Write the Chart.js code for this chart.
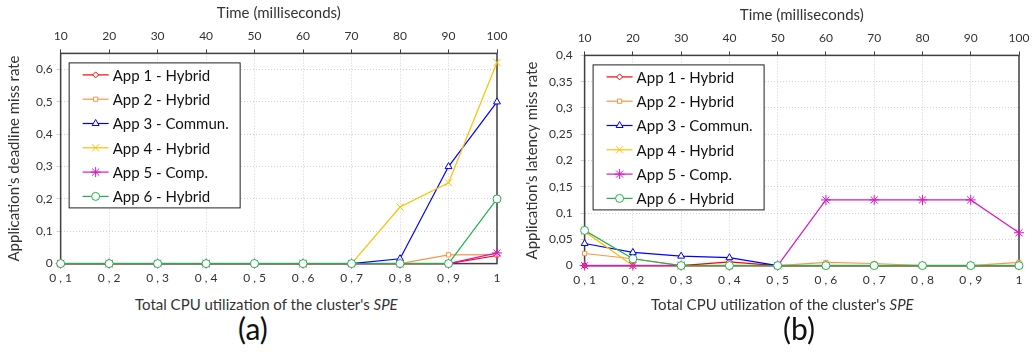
<!DOCTYPE html>
<html>
<head>
<meta charset="utf-8">
<script src="https://cdn.jsdelivr.net/npm/chart.js@4/dist/chart.umd.min.js"></script>
<style>
  body { margin: 0; background: #fff; font-family: Lato, "Open Sans", sans-serif; }
  #wrap { position: relative; width: 1036px; height: 354px; overflow: hidden; }
  .pane { position: absolute; width: 518px; height: 295px; }
  .xtitle { position: absolute; top: 295px; font-size: 15px; color: #333; white-space: nowrap; }
  .tag { position: absolute; top: 310px; font-size: 30px; color: #111; }
</style>
</head>
<body>
<div id="wrap">
  <div class="pane" style="left:0; top:0"><canvas id="deadlineChart" width="518" height="295"></canvas></div>
  <div class="pane" style="left:518px; top:2px"><canvas id="latencyChart" width="518" height="295"></canvas></div>
  <div class="xtitle" style="left:135px">Total CPU utilization of the cluster's <i>SPE</i></div>
  <div class="xtitle" style="left:651px">Total CPU utilization of the cluster's <i>SPE</i></div>
  <div class="tag" style="left:238px">(a)</div>
  <div class="tag" style="left:783px">(b)</div>
</div>
<script>
// categories
const utilLabels = ['0,1', '0,2', '0,3', '0,4', '0,5', '0,6', '0,7', '0,8', '0,9', '1'];
const timeLabels = ['10', '20', '30', '40', '50', '60', '70', '80', '90', '100'];
const appNames = ['App 1 - Hybrid', 'App 2 - Hybrid', 'App 3 - Commun.', 'App 4 - Hybrid', 'App 5 - Comp.', 'App 6 - Hybrid'];

// (a) deadline miss rate
const deadlineApp1 = [0, 0, 0, 0, 0, 0, 0, 0, 0, 0.025];
const deadlineApp2 = [0, 0, 0, 0, 0, 0, 0, 0, 0.027, 0.028];
const deadlineApp3 = [0, 0, 0, 0, 0, 0, 0, 0.015, 0.3, 0.5];
const deadlineApp4 = [0, 0, 0, 0, 0, 0, 0, 0.175, 0.25, 0.622];
const deadlineApp5 = [0, 0, 0, 0, 0, 0, 0, 0, 0, 0.033];
const deadlineApp6 = [0, 0, 0, 0, 0, 0, 0, 0, 0, 0.2];

// (b) latency miss rate
const latencyApp1 = [0, 0, 0, 0.007, 0, 0, 0, 0, 0, 0];
const latencyApp2 = [0.023, 0.013, 0, 0, 0, 0.006, 0.004, 0, 0, 0.006];
const latencyApp3 = [0.042, 0.025, 0.018, 0.015, 0, 0, 0, 0, 0, 0];
const latencyApp4 = [0.065, 0, 0, 0, 0, 0, 0, 0, 0, 0];
const latencyApp5 = [0, 0, 0, 0, 0, 0.125, 0.125, 0.125, 0.125, 0.0625];
const latencyApp6 = [0.067, 0.013, 0, 0, 0, 0, 0, 0, 0, 0];

const colors = ['#FF0000', '#F79646', '#0000FF', '#FFC000', '#D619C4', '#22B14C'];
const markers = ['rectRot', 'rect', 'triangle', 'crossRot', 'star', 'circle'];
const sizes = [3, 3, 4, 5, 5, 4];

const FONT = 'Lato, "Open Sans", sans-serif';

function makeSets(series) {
    return series.map((data, i) => ({
        label: appNames[i],
        data: data,
        borderColor: colors[i],
        backgroundColor: '#fff',
        pointBackgroundColor: '#fff',
        pointBorderColor: colors[i],
        pointStyle: markers[i],
        pointRadius: sizes[i],
        pointBorderWidth: 1,
        borderWidth: 1.2,
        tension: 0,
        clip: false,
        order: 5 - i
    }));
}

// frame around the plot, drawn under the data
const plotFrame = {
    id: 'plotFrame',
    beforeDatasetsDraw(chart) {
        const ctx = chart.ctx;
        const a = chart.chartArea;
        ctx.save();
        ctx.strokeStyle = '#404040';
        ctx.lineWidth = 1.5;
        ctx.strokeRect(a.left, a.top, a.right - a.left, a.bottom - a.top);
        ctx.restore();
    }
};

// legend box drawn inside the plot area
const boxLegend = {
    id: 'boxLegend',
    afterDraw(chart) {
        const ctx = chart.ctx;
        const a = chart.chartArea;
        ctx.save();
        const x = a.left + 8, y = a.top + 9, w = 171, h = 145;
        ctx.fillStyle = '#fff';
        ctx.fillRect(x, y, w, h);
        ctx.strokeStyle = '#222';
        ctx.lineWidth = 1;
        ctx.strokeRect(x + 0.5, y + 0.5, w, h);
        ctx.font = '15px ' + FONT;
        ctx.textBaseline = 'middle';
        chart.data.datasets.forEach((ds, i) => {
            const yy = y + 12.5 + i * 24.3;
            ctx.strokeStyle = ds.borderColor;
            ctx.lineWidth = 1.2;
            ctx.beginPath();
            ctx.moveTo(x + 14, yy);
            ctx.lineTo(x + 40, yy);
            ctx.stroke();
            ctx.fillStyle = '#fff';
            ctx.strokeStyle = ds.borderColor;
            ctx.lineWidth = 1;
            Chart.helpers.drawPoint(ctx, { pointStyle: ds.pointStyle, radius: ds.pointRadius, rotation: 0, borderWidth: 1 }, x + 27, yy);
            ctx.fillStyle = '#111';
            ctx.fillText(ds.label, x + 44, yy + 1);
        });
        ctx.restore();
    }
};

function commaNum(v) {
    return String(+Number(v).toFixed(2)).replace('.', ',');
}

function makeChart(id, series, yTitle, yMax, yStep, rightPad, tickPad, titlePad) {
    return new Chart(document.getElementById(id), {
        type: 'line',
        data: { labels: utilLabels, datasets: makeSets(series) },
        plugins: [plotFrame, boxLegend],
        options: {
            responsive: false,
            animation: false,
            layout: { autoPadding: false, padding: { left: 5, right: rightPad, top: 4, bottom: 3 } },
            plugins: { legend: { display: false }, tooltip: { enabled: false } },
            scales: {
                x: {
                    type: 'category',
                    offset: false,
                    grid: { color: '#d0d0d0', tickLength: 0 },
                    border: { display: false, dash: [1, 2] },
                    ticks: {
                        color: '#333', font: { family: FONT, size: 12 }, padding: 7, maxRotation: 0,
                        callback(v) { return this.getLabelForValue(v).split('').join(' '); }
                    }
                },
                x2: {
                    type: 'category',
                    position: 'top',
                    labels: timeLabels,
                    offset: false,
                    grid: { drawOnChartArea: false, tickLength: 4, color: '#404040' },
                    border: { display: false },
                    ticks: { color: '#333', font: { family: FONT, size: 12 }, padding: 6, maxRotation: 0 },
                    title: { display: true, text: 'Time (milliseconds)', color: '#333', font: { family: FONT, size: 15 }, padding: { top: 0, bottom: 1 } }
                },
                y: {
                    min: 0,
                    max: yMax,
                    grid: { color: '#d0d0d0', tickLength: 4 },
                    border: { display: false, dash: [1, 2] },
                    afterBuildTicks(axis) {
                        axis.ticks = axis.ticks.filter(t => Math.abs(t.value / yStep - Math.round(t.value / yStep)) < 1e-6);
                    },
                    ticks: { stepSize: yStep, color: '#333', font: { family: FONT, size: 12 }, padding: tickPad, callback: commaNum },
                    title: { display: true, text: yTitle, color: '#333', font: { family: FONT, size: 15 }, padding: { top: 0, bottom: titlePad } }
                }
            }
        }
    });
}

makeChart('deadlineChart', [deadlineApp1, deadlineApp2, deadlineApp3, deadlineApp4, deadlineApp5, deadlineApp6],
    "Application's deadline miss rate", 0.65, 0.1, 21, 4, 9);
makeChart('latencyChart', [latencyApp1, latencyApp2, latencyApp3, latencyApp4, latencyApp5, latencyApp6],
    "Application's latency miss rate", 0.4, 0.05, 17, 8, 0);
</script>
</body>
</html>
